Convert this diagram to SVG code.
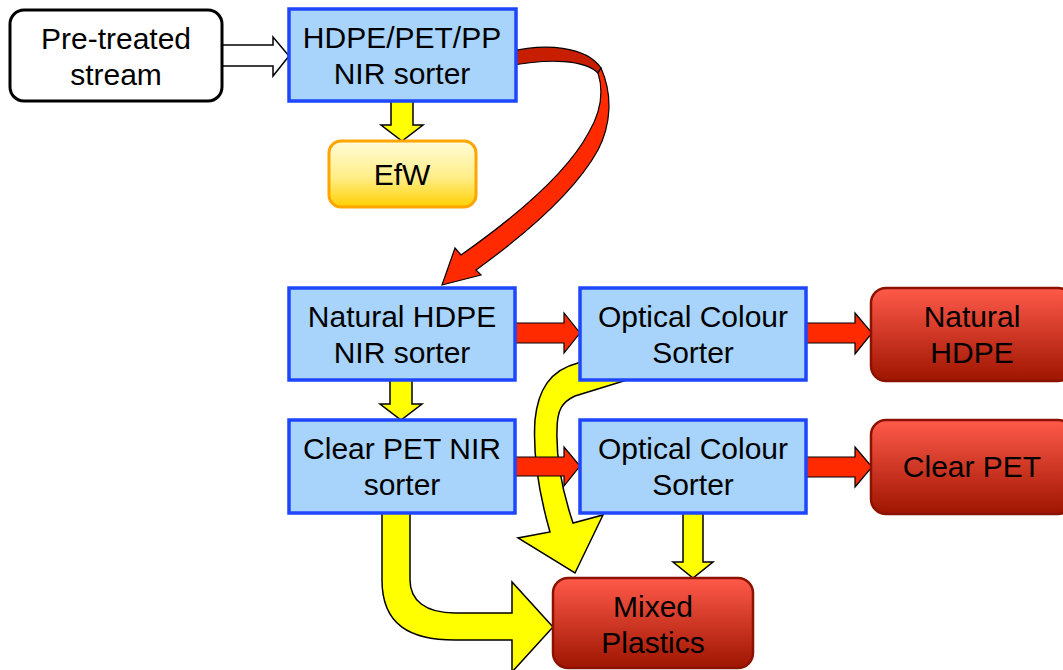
<svg xmlns="http://www.w3.org/2000/svg" width="1063" height="670" viewBox="0 0 1063 670">
<defs>
<linearGradient id="gEfw" x1="0" y1="0" x2="0" y2="1">
<stop offset="0" stop-color="#fffcd8"/><stop offset="0.55" stop-color="#ffee88"/><stop offset="1" stop-color="#ffd000"/>
</linearGradient>
<linearGradient id="gRed" x1="0" y1="0" x2="0" y2="1">
<stop offset="0" stop-color="#ff5a4a"/><stop offset="1" stop-color="#9e1500"/>
</linearGradient>
<style>
.t{font-family:"Liberation Sans",Arial,sans-serif;font-size:30px;fill:#000;text-anchor:middle}
.blue{fill:#a8d4fb;stroke:#1e46ff;stroke-width:3.5}
.red{fill:url(#gRed);stroke:#8c1200;stroke-width:2.5}
.ya{fill:#ffff00;stroke:#000;stroke-width:1.5;stroke-linejoin:miter}
.ra{fill:#ff2a00;stroke:#000;stroke-width:1.2}
</style>
</defs>
<g id="connectors">
<polygon points="222,45 273,45 273,37 289,56 273,76 273,66 222,66" fill="#fff" stroke="#000" stroke-width="1.5"/>
<polygon class="ya" points="391,101 413,101 413,125 423,125 402,141 381,125 391,125"/>
<polygon class="ya" points="390,380 412,380 412,404 422,404 401,420 380,404 390,404"/>
<polygon class="ya" points="683,513 703,513 703,562 713,562 693,578 673,562 683,562"/>
<path class="ya" d="M 382 505 L 382 580 C 382 625 410 640 455 640 L 512 640 L 512 672 L 553 627 L 512 582 L 512 613 L 455 613 C 425 613 410 600 410 580 L 410 505 Z"/>
<path class="ya" d="M 610 355 L 578 363 C 550 370 538 390 535 420 C 533 450 538 490 550 532 L 518 538 L 575 573 L 603 515 L 573 523 C 562 490 556 460 557 430 C 557 410 562 402 575 396 L 640 376 Z"/>
<path d="M 508 52 C 545 43 586 46 601 68 L 598 73 C 585 60 550 58 508 66 Z" fill="#c81e00" stroke="#000" stroke-width="1.2"/>
<path class="ra" d="M 598 73 C 604 92 600 113 589 132 C 570 168 525 210 461 255 L 455 248 L 442 285 L 481 275 L 476 270 C 530 231 576 190 598 150 C 611 125 613 95 601 68 Z"/>
<polygon class="ra" points="515,323 564,323 564,313 580,333 564,353 564,343 515,343"/>
<polygon class="ra" points="515,457 564,457 564,447 580,466 564,486 564,476 515,476"/>
<polygon class="ra" points="806,323 855,323 855,313 872,333 855,354 855,343 806,343"/>
<polygon class="ra" points="806,457 855,457 855,447 872,467 855,487 855,477 806,477"/>
</g>
<g id="pretreated">
<rect x="10" y="10" width="212" height="91" rx="14" fill="#fff" stroke="#000" stroke-width="3"/>
<text class="t" x="116" y="49">Pre-treated</text>
<text class="t" x="116" y="85">stream</text>
</g>
<g id="hdpe-pet-pp">
<rect class="blue" x="289" y="9" width="227" height="92"/>
<text class="t" x="402" y="48">HDPE/PET/PP</text>
<text class="t" x="402" y="84">NIR sorter</text>
</g>
<g id="efw">
<rect x="329" y="141" width="147" height="66" rx="12" fill="url(#gEfw)" stroke="#ffa500" stroke-width="3"/>
<text class="t" x="402" y="185">EfW</text>
</g>
<g id="natural-hdpe-nir">
<rect class="blue" x="289" y="288" width="226" height="92"/>
<text class="t" x="402" y="327">Natural HDPE</text>
<text class="t" x="402" y="363">NIR sorter</text>
</g>
<g id="ocs1">
<rect class="blue" x="580" y="288" width="226" height="92"/>
<text class="t" x="693" y="327">Optical Colour</text>
<text class="t" x="693" y="363">Sorter</text>
</g>
<g id="natural-hdpe">
<rect class="red" x="871" y="288" width="202" height="93" rx="15"/>
<text class="t" x="972" y="327">Natural</text>
<text class="t" x="972" y="363">HDPE</text>
</g>
<g id="clear-pet-nir">
<rect class="blue" x="289" y="420" width="226" height="93"/>
<text class="t" x="402" y="459">Clear PET NIR</text>
<text class="t" x="402" y="495">sorter</text>
</g>
<g id="ocs2">
<rect class="blue" x="580" y="420" width="226" height="93"/>
<text class="t" x="693" y="459">Optical Colour</text>
<text class="t" x="693" y="495">Sorter</text>
</g>
<g id="clear-pet">
<rect class="red" x="871" y="420" width="202" height="94" rx="15"/>
<text class="t" x="972" y="477">Clear PET</text>
</g>
<g id="mixed-plastics">
<rect class="red" x="553" y="578" width="200" height="90" rx="15"/>
<text class="t" x="653" y="617">Mixed</text>
<text class="t" x="653" y="653">Plastics</text>
</g>
</svg>
